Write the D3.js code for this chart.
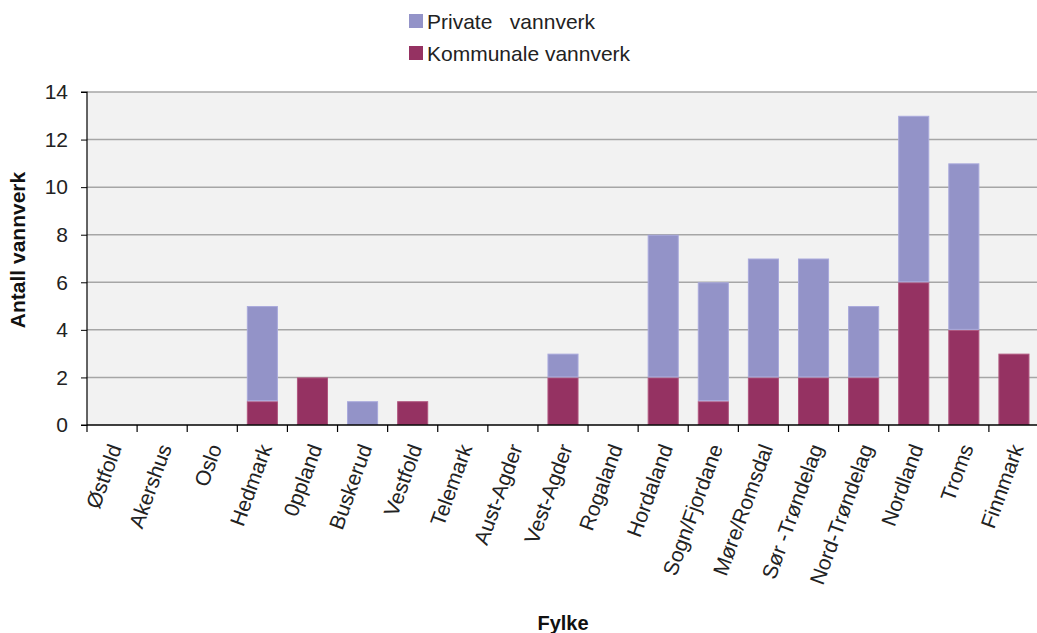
<!DOCTYPE html>
<html><head><meta charset="utf-8">
<script src="https://cdn.jsdelivr.net/npm/d3@7"></script>
<style>body{margin:0;background:#fff}svg{display:block}text{font-family:"Liberation Sans",Arial,sans-serif}</style>
</head><body><svg id="c" width="1037" height="633"></svg>
<script>
const categories = ["Østfold","Akershus","Oslo","Hedmark","0ppland","Buskerud","Vestfold","Telemark","Aust-Agder","Vest-Agder","Rogaland","Hordaland","Sogn/Fjordane","Møre/Romsdal","Sør -Trøndelag","Nord-Trøndelag","Nordland","Troms","Finnmark"];
const kommunale = [0,0,0,1,2,0,1,0,0,2,0,2,1,2,2,2,6,4,3];
const private_ = [0,0,0,4,0,1,0,0,0,1,0,6,5,5,5,3,7,7,0];
const yTicks = [0,2,4,6,8,10,12,14];
const seriesNames = ["Private   vannverk","Kommunale vannverk"];
const colors = ["#9393c8","#953262"];
const edgeColors = ["#a9a9dc","#b0577f"];

const svg = d3.select("#c");
const L = 87, R = 1039, T = 92, B = 425;
const x = d3.scaleBand().domain(categories).range([L,R]).paddingInner(0.38).paddingOuter(0.19);
const y = d3.scaleLinear().domain([0,14]).range([B,T]);

svg.append("rect").attr("x",L).attr("y",T).attr("width",R-L).attr("height",B-T).attr("fill","#f2f2f2");
svg.append("g").selectAll("line").data(yTicks.filter(d=>d>0)).join("line")
  .attr("x1",L).attr("x2",R).attr("y1",d=>y(d)).attr("y2",d=>y(d))
  .attr("stroke","#a6a6a6").attr("stroke-width",1.5);

const rows = categories.map((c,i)=>({cat:c,k:kommunale[i],p:private_[i]}));
const stack = d3.stack().keys(["k","p"])(rows);
const fills = {k:colors[1],p:colors[0]};
const edges = {k:edgeColors[1],p:edgeColors[0]};
svg.append("g").selectAll("g").data(stack).join("g")
  .attr("fill",d=>fills[d.key]).attr("stroke",d=>edges[d.key]).attr("stroke-width",1)
  .selectAll("rect").data(d=>d.filter(e=>e[1]-e[0]>0)).join("rect")
  .attr("x",d=>x(d.data.cat)+0.5).attr("width",x.bandwidth()-1)
  .attr("y",d=>y(d[1])+0.5).attr("height",d=>y(d[0])-y(d[1])-1);

// y axis
const ya = svg.append("g").attr("transform",`translate(${L},0)`)
  .call(d3.axisLeft(y).tickValues(yTicks).tickSize(6).tickPadding(13));
ya.select(".domain").attr("stroke","#000").attr("stroke-width",1.2).attr("d",`M-6,${T}H0V${B}H-6`);
ya.selectAll(".tick line").attr("stroke","#000");
ya.selectAll("text").attr("font-size",21).attr("fill","#222").attr("font-family","Liberation Sans, Arial, sans-serif");

// x axis
const xa = svg.append("g").attr("transform",`translate(0,${B})`)
  .call(d3.axisBottom(x).tickSize(0).tickPadding(0));
xa.select(".domain").attr("stroke","#000").attr("stroke-width",1.5).attr("d",`M${L},0H${R}`);
const step = x.step();
svg.append("g").selectAll("line").data(d3.range(categories.length+1)).join("line")
  .attr("x1",i=>L+i*step).attr("x2",i=>L+i*step).attr("y1",B).attr("y2",B+7)
  .attr("stroke","#000").attr("stroke-width",1.2);
xa.selectAll(".tick text")
  .attr("font-size",21).attr("fill","#222").attr("font-family","Liberation Sans, Arial, sans-serif")
  .attr("text-anchor","end").attr("dy","0.35em")
  .attr("transform","translate(3,20) rotate(-70)");

// axis titles
svg.append("text").attr("transform",`translate(25,${250}) rotate(-90)`)
  .attr("text-anchor","middle").attr("font-size",21).attr("font-weight","bold").attr("fill","#111").text("Antall vannverk");
svg.append("text").attr("x",563).attr("y",630).attr("text-anchor","middle")
  .attr("font-size",20).attr("font-weight","bold").attr("fill","#111").text("Fylke");

// legend
const lg = svg.append("g").attr("transform","translate(409,14)");
seriesNames.forEach((n,i)=>{
  const g = lg.append("g").attr("transform",`translate(0,${i*32})`);
  g.append("rect").attr("width",14).attr("height",14).attr("fill",colors[i]);
  g.append("text").attr("x",18).attr("y",14.5).attr("font-size",21).attr("fill","#222")
    .attr("xml:space","preserve").style("white-space","pre").text(n);
});
</script></body></html>
